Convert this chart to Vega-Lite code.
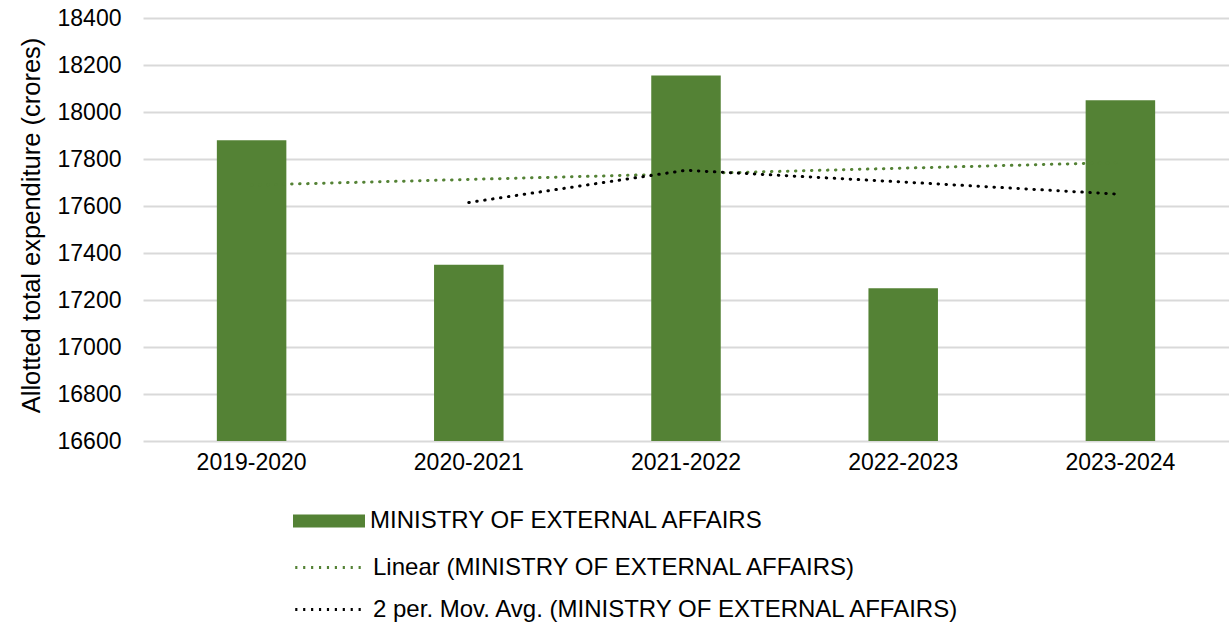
{
  "$schema": "https://vega.github.io/schema/vega-lite/v6.json",
  "width": 1086,
  "height": 423,
  "autosize": "none",
  "padding": {"left": 143, "top": 18, "right": 0, "bottom": 181},
  "background": "white",
  "config": {
    "font": "Liberation Sans",
    "view": {"stroke": null},
    "axis": {"labelFont": "Liberation Sans", "titleFont": "Liberation Sans", "labelColor": "#000000", "titleColor": "#000000"},
    "legend": {"labelFont": "Liberation Sans", "labelFontSize": 24, "labelColor": "#000000", "labelOffset": 5, "labelLimit": 0}
  },
  "datasets": {
    "bars": [
      {"year": "2019-2020", "value": 17880, "series": "MINISTRY OF EXTERNAL AFFAIRS"},
      {"year": "2020-2021", "value": 17350, "series": "MINISTRY OF EXTERNAL AFFAIRS"},
      {"year": "2021-2022", "value": 18155, "series": "MINISTRY OF EXTERNAL AFFAIRS"},
      {"year": "2022-2023", "value": 17250, "series": "MINISTRY OF EXTERNAL AFFAIRS"},
      {"year": "2023-2024", "value": 18050, "series": "MINISTRY OF EXTERNAL AFFAIRS"}
    ],
    "linear": [
      {"year": "2019-2020", "value": 17689, "series": "Linear (MINISTRY OF EXTERNAL AFFAIRS)"},
      {"year": "2020-2021", "value": 17713, "series": "Linear (MINISTRY OF EXTERNAL AFFAIRS)"},
      {"year": "2021-2022", "value": 17737, "series": "Linear (MINISTRY OF EXTERNAL AFFAIRS)"},
      {"year": "2022-2023", "value": 17761, "series": "Linear (MINISTRY OF EXTERNAL AFFAIRS)"},
      {"year": "2023-2024", "value": 17785, "series": "Linear (MINISTRY OF EXTERNAL AFFAIRS)"}
    ],
    "movavg": [
      {"year": "2020-2021", "value": 17615, "series": "2 per. Mov. Avg. (MINISTRY OF EXTERNAL AFFAIRS)"},
      {"year": "2021-2022", "value": 17752, "series": "2 per. Mov. Avg. (MINISTRY OF EXTERNAL AFFAIRS)"},
      {"year": "2022-2023", "value": 17702, "series": "2 per. Mov. Avg. (MINISTRY OF EXTERNAL AFFAIRS)"},
      {"year": "2023-2024", "value": 17650, "series": "2 per. Mov. Avg. (MINISTRY OF EXTERNAL AFFAIRS)"}
    ]
  },
  "encoding": {
    "x": {
      "field": "year", "type": "nominal",
      "scale": {"domain": ["2019-2020", "2020-2021", "2021-2022", "2022-2023", "2023-2024"], "paddingInner": 0.68, "paddingOuter": 0.34},
      "axis": {"title": null, "labelAngle": 0, "labelFontSize": 23, "labelPadding": 10, "ticks": false, "domain": false, "grid": false}
    },
    "y": {
      "field": "value", "type": "quantitative",
      "scale": {"domain": [16600, 18400], "zero": false, "nice": false},
      "axis": {"title": "Allotted total expenditure (crores)", "titleFontSize": 25.5, "titleFontWeight": "normal", "titlePadding": 13, "titleY": 207,
               "values": [16600, 16800, 17000, 17200, 17400, 17600, 17800, 18000, 18200, 18400], "format": "d",
               "labelFontSize": 23, "labelPadding": 22, "ticks": false, "domain": false,
               "grid": true, "gridColor": "#D9D9D9", "gridWidth": 2}
    }
  },
  "resolve": {"scale": {"stroke": "independent"}, "legend": {"stroke": "independent"}},
  "layer": [
    {
      "data": {"name": "bars"},
      "mark": {"type": "bar", "clip": true},
      "encoding": {
        "fill": {
          "field": "series", "type": "nominal",
          "scale": {"range": ["#548235"]},
          "legend": {
            "title": null, "orient": "none", "legendX": 150, "legendY": 467,
            "symbolType": "M-1,-0.18H1V0.18H-1Z", "symbolSize": 5184, "symbolStrokeWidth": 0
          }
        }
      }
    },
    {
      "data": {"name": "linear"},
      "mark": {"type": "line", "strokeWidth": 3, "strokeCap": "round", "strokeDash": [0.5, 7.5]},
      "encoding": {
        "stroke": {
          "field": "series", "type": "nominal",
          "scale": {"range": ["#548235"]},
          "legend": {
            "title": null, "orient": "none", "legendX": 150, "legendY": 512,
            "symbolType": "M-0.98,0h0.06M-0.76,0h0.06M-0.54,0h0.06M-0.32,0h0.06M-0.1,0h0.06M0.12,0h0.06M0.34,0h0.06M0.56,0h0.06M0.78,0h0.06",
            "symbolSize": 5184, "symbolStrokeWidth": 3
          }
        }
      }
    },
    {
      "data": {"name": "movavg"},
      "mark": {"type": "line", "strokeWidth": 3, "strokeCap": "round", "strokeDash": [0.5, 7.5]},
      "encoding": {
        "stroke": {
          "field": "series", "type": "nominal",
          "scale": {"range": ["#000000"]},
          "legend": {
            "title": null, "orient": "none", "legendX": 150, "legendY": 554,
            "symbolType": "M-0.98,0h0.06M-0.76,0h0.06M-0.54,0h0.06M-0.32,0h0.06M-0.1,0h0.06M0.12,0h0.06M0.34,0h0.06M0.56,0h0.06M0.78,0h0.06",
            "symbolSize": 5184, "symbolStrokeWidth": 3
          }
        }
      }
    }
  ]
}
